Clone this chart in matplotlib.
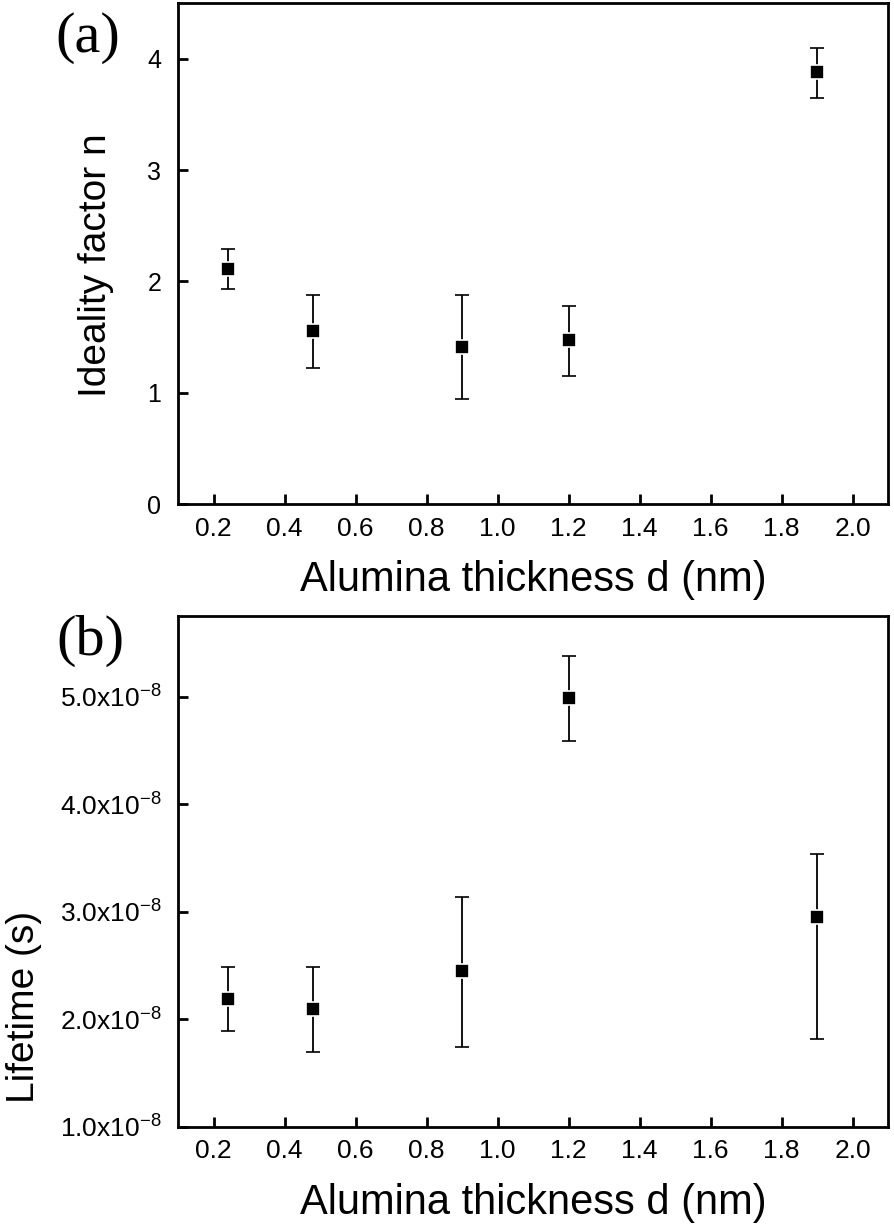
import matplotlib
matplotlib.use("Agg")
import matplotlib.pyplot as plt
from matplotlib.ticker import FuncFormatter

# ---- data ----
thickness = [0.24, 0.48, 0.90, 1.20, 1.90]
ideality = [2.11, 1.55, 1.41, 1.47, 3.88]
ideality_err_low = [0.18, 0.33, 0.47, 0.32, 0.23]
ideality_err_high = [0.18, 0.33, 0.47, 0.31, 0.22]
lifetime = [2.19e-8, 2.10e-8, 2.45e-8, 4.99e-8, 2.95e-8]
lifetime_err_low = [0.30e-8, 0.40e-8, 0.71e-8, 0.40e-8, 1.13e-8]
lifetime_err_high = [0.30e-8, 0.39e-8, 0.69e-8, 0.39e-8, 0.59e-8]
xticks = [0.2, 0.4, 0.6, 0.8, 1.0, 1.2, 1.4, 1.6, 1.8, 2.0]
yticks_a = [0, 1, 2, 3, 4]
yticks_b = [1e-8, 2e-8, 3e-8, 4e-8, 5e-8]

plt.rcParams['font.family'] = ['Liberation Sans', 'DejaVu Sans']
plt.rcParams['mathtext.fontset'] = 'custom'
plt.rcParams['mathtext.rm'] = 'Liberation Sans'
plt.rcParams['mathtext.it'] = 'Liberation Sans'

W, H = 894, 1229
fig = plt.figure(figsize=(W / 100, H / 100), dpi=100)

def rect(l, t, r, b):
    return [l / W, 1 - b / H, (r - l) / W, (b - t) / H]

ax1 = fig.add_axes(rect(178, 3, 888, 504))
ax2 = fig.add_axes(rect(178, 616, 888, 1127))

def style(ax):
    for s in ax.spines.values():
        s.set_linewidth(2.0)
    ax.tick_params(direction='in', length=7, width=2.0, top=False, right=False,
                   labelsize=19, pad=9)
    ax.set_xlim(0.1, 2.1)
    ax.set_xticks(xticks)
    ax.set_xticklabels([f"{v:.1f}" for v in xticks])
    ax.set_xlabel("Alumina thickness d (nm)", fontsize=30, labelpad=14)

ekw = dict(fmt='s', color='black', ecolor='black', elinewidth=1.3, capsize=5,
           capthick=1.3, markersize=10, markeredgecolor='white', markeredgewidth=1.2)

ax1.errorbar(thickness, ideality, yerr=[ideality_err_low, ideality_err_high], **ekw)
style(ax1)
ax1.set_ylim(0, 4.5)
ax1.set_yticks(yticks_a)
ax1.tick_params(axis='y', labelsize=18, pad=12)
ax1.set_ylabel("Ideality factor n", fontsize=28, va='center')
ax1.yaxis.set_label_coords(96 / W, 1 - 265 / H, transform=fig.transFigure)

ax2.errorbar(thickness, lifetime, yerr=[lifetime_err_low, lifetime_err_high], **ekw)
style(ax2)
ax2.set_ylim(1e-8, 5.75e-8)
ax2.set_yticks(yticks_b)
ax2.yaxis.set_major_formatter(FuncFormatter(lambda v, p: f"{v*1e8:.1f}x10$^{{-8}}$"))
ax2.tick_params(axis='y', labelsize=19, pad=12)
ax2.set_ylabel("Lifetime (s)", fontsize=28, va='center')
ax2.yaxis.set_label_coords(24 / W, 1 - 1007 / H, transform=fig.transFigure)

fig.text(88 / W, 1 - 38 / H, "(a)", fontsize=42, family=['Liberation Serif', 'DejaVu Serif'],
         ha='center', va='center')
fig.text(90 / W, 1 - 641 / H, "(b)", fontsize=42, family=['Liberation Serif', 'DejaVu Serif'],
         ha='center', va='center')

fig.savefig("out.png", dpi=100)
